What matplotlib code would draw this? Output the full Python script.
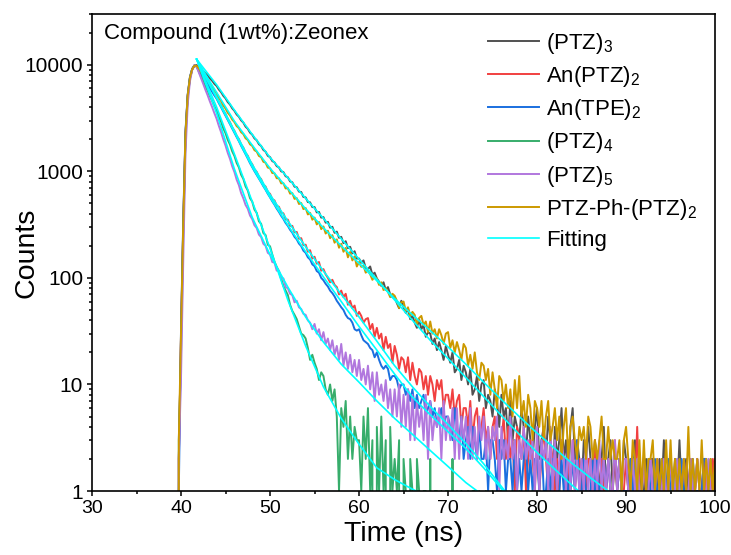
import numpy as np
import matplotlib
matplotlib.use('Agg')
import matplotlib.pyplot as plt
from matplotlib.ticker import MultipleLocator, LogLocator, FuncFormatter, NullFormatter

plt.rcParams['font.family'] = 'Liberation Sans'
plt.rcParams['mathtext.fontset'] = 'custom'
plt.rcParams['mathtext.rm'] = 'Liberation Sans'
plt.rcParams['mathtext.it'] = 'Liberation Sans:italic'
plt.rcParams['mathtext.default'] = 'regular'

# TRPL decay histograms: counts per 0.25 ns channel, first channel at 39.5 ns
t_start = 39.5
t_step = 0.25

ptz3 = [0, 2,
        28, 310, 2250, 5150, 7550, 9050, 9800, 9950,
        9520, 9090, 8730, 8280, 7940, 7420, 7080, 6620,
        6330, 5860, 5540, 5120, 4850, 4470, 4240, 3910,
        3700, 3420, 3260, 3010, 2870, 2630, 2510, 2310,
        2210, 2040, 1960, 1800, 1730, 1590, 1530, 1400,
        1360, 1250, 1215, 1120, 1090, 1000, 985, 900,
        880, 805, 790, 718, 710, 645, 640, 575,
        570, 515, 512, 462, 462, 412, 416, 368,
        372, 330, 336, 296, 302, 265, 272, 238,
        243, 212, 221, 190, 196, 170, 178, 152,
        152, 139, 146, 124, 121, 128, 107, 112,
        99, 92, 84, 91, 77, 82, 70, 66,
        66, 58, 52, 61, 53, 47, 51, 41,
        44, 38, 34, 41, 33, 36, 28, 31,
        30, 24, 27, 21, 25, 21, 17, 23,
        19, 16, 20, 13, 14, 17, 11, 15,
        13, 10, 14, 8, 9, 12, 7, 10,
        11, 6, 8, 7, 5, 9, 7, 4,
        8, 5, 6, 3, 7, 3, 5, 4,
        3, 6, 4, 2, 5, 3, 2, 4,
        6, 2, 3, 4, 2, 5, 3, 1,
        4, 2, 3, 6, 2, 3, 1, 4,
        6, 2, 3, 2, 1, 3, 2, 4,
        2, 1, 3, 2, 1, 2, 4, 1,
        2, 3, 1, 2, 1, 2, 1, 3,
        2, 1, 2, 1, 3, 1, 2, 1,
        1, 2, 1, 2, 2, 1, 1, 2,
        1, 3, 1, 1, 2, 1, 2, 1,
        3, 1, 1, 2, 1, 2, 1, 1,
        2, 1, 1, 2, 1, 1, 2, 1,
        1]

an_ptz2 = [0, 2,
           30, 300, 2200, 5100, 7500, 9050, 9800, 9720,
           9020, 8330, 7780, 7160, 6700, 6160, 5780, 5300,
           4980, 4490, 4150, 3740, 3460, 3110, 2890, 2590,
           2400, 2150, 2010, 1790, 1670, 1490, 1400, 1245,
           1165, 1045, 990, 890, 845, 752, 720, 640,
           615, 548, 534, 474, 465, 410, 404, 355,
           352, 308, 308, 268, 270, 233, 236, 203,
           205, 176, 182, 152, 158, 136, 141, 117,
           121, 108, 100, 91, 96, 86, 82, 70,
           76, 66, 71, 56, 61, 52, 55, 44,
           48, 44, 38, 41, 42, 33, 37, 28,
           34, 27, 30, 21, 28, 22, 24, 16,
           23, 19, 14, 18, 17, 13, 18, 11,
           16, 12, 10, 14, 13, 9, 12, 8,
           12, 10, 7, 11, 9, 11, 6, 8,
           8, 6, 9, 5, 7, 8, 4, 6,
           6, 4, 7, 3, 5, 6, 3, 4,
           6, 3, 4, 2, 4, 5, 2, 3,
           3, 5, 2, 4, 2, 3, 1, 4,
           3, 2, 4, 1, 2, 3, 2, 1,
           3, 1, 2, 4, 2, 1, 3, 2,
           1, 2, 1, 3, 2, 1, 2, 1,
           3, 1, 2, 2, 1, 2, 1, 2,
           2, 1, 3, 1, 1, 2, 1, 1,
           2, 1, 1, 3, 1, 2, 1, 1,
           2, 1, 1, 2, 1, 4, 1, 1,
           2, 1, 1, 2, 1, 1, 2, 1,
           1, 2, 1, 1, 2, 1, 1, 1,
           1, 1, 2, 1, 1, 2, 1, 1,
           2, 1, 1, 2, 1, 1, 1, 2,
           1]

an_tpe2 = [0, 1,
           34, 350, 2400, 5300, 7700, 9200, 9900, 9650,
           8920, 8240, 7600, 7020, 6500, 6000, 5560, 5150,
           4800, 4370, 4000, 3640, 3330, 3040, 2770, 2530,
           2310, 2100, 1920, 1740, 1590, 1450, 1320, 1195,
           1095, 1005, 928, 855, 790, 725, 672, 616,
           570, 524, 487, 447, 416, 383, 358, 328,
           308, 283, 266, 243, 230, 210, 199, 180,
           172, 156, 149, 134, 129, 116, 112, 100,
           95, 88, 83, 76, 72, 67, 61, 57,
           53, 50, 45, 42, 41, 38, 33, 32,
           33, 29, 26, 25, 24, 22, 21, 18,
           20, 17, 15, 14, 15, 14, 11, 12,
           12, 11, 9, 10, 10, 8, 9, 7,
           9, 6, 8, 6, 7, 8, 5, 6,
           7, 5, 6, 4, 5, 6, 4, 5,
           5, 4, 3, 6, 4, 3, 5, 2,
           3, 4, 2, 4, 3, 2, 4, 2,
           2, 3, 1, 3, 3, 2, 1, 3,
           2, 3, 1, 2, 2, 1, 3, 1,
           2, 1, 2, 3, 1, 2, 1, 2,
           2, 1, 3, 1, 1, 2, 1, 2,
           2, 1, 1, 2, 1, 2, 1, 1,
           2, 1, 3, 1, 1, 2, 1, 1,
           1, 2, 1, 2, 1, 1, 2, 1,
           2, 1, 1, 1, 1, 2, 1, 1,
           1, 1, 2, 1, 2, 1, 1, 1,
           1, 1, 2, 1, 1, 2, 1, 1,
           2, 1, 1, 2, 1, 1, 1, 2,
           1, 2, 1, 1, 1, 1, 2, 1,
           1, 1, 1, 2, 2, 1, 1, 1,
           1]

ptz4 = [0, 3,
        20, 260, 2000, 4900, 7400, 9000, 9850, 9600,
        8650, 7740, 7000, 6250, 5660, 5050, 4580, 4080,
        3710, 3250, 2910, 2530, 2280, 1975, 1785, 1540,
        1395, 1200, 1090, 930, 850, 722, 662, 560,
        520, 438, 408, 340, 322, 264, 252, 205,
        198, 166, 142, 127, 115, 98, 84, 76,
        69, 56, 49, 45, 41, 35, 30, 29,
        27, 22, 17, 19, 16, 14, 11, 13,
        12, 9, 8, 10, 7, 9, 5, 1,
        6, 4, 7, 2, 5, 2, 4, 3,
        3, 1, 5, 2, 6, 1, 3, 0,
        4, 1, 5, 1, 3, 0, 4, 1,
        2, 1, 3, 0, 2, 1, 0, 2,
        1, 0, 2, 1, 0, 1, 1, 0,
        2, 0, 1, 1, 0, 1, 0, 1,
        1, 0, 2, 0, 1, 0, 1, 0,
        0, 1, 0, 1, 1, 0, 1, 0,
        0, 1, 0, 0, 1, 0, 0, 1,
        1, 0, 1, 0, 0, 1, 0, 0,
        1, 0, 0, 1, 0, 0, 1, 0,
        1, 0, 0, 0, 0, 1, 0, 1,
        0, 0, 1, 0, 0, 1, 0, 0,
        1, 0, 0, 1, 0, 0, 1, 0,
        0, 1, 0, 0, 1, 0, 0, 0,
        0, 0, 1, 0, 0, 1, 0, 0,
        0, 0, 1, 0, 1, 0, 0, 0,
        0, 1, 0, 0, 0, 0, 0, 1,
        0, 1, 0, 0, 1, 0, 0, 0,
        0, 0, 1, 0, 0, 1, 0, 0,
        0, 0, 1, 0, 1, 0, 0, 0,
        0]

ptz5 = [0, 2,
        12, 150, 1500, 4300, 7000, 8950, 9900, 9600,
        8480, 7460, 6600, 5800, 5140, 4510, 4000, 3510,
        3110, 2670, 2330, 1995, 1745, 1490, 1310, 1115,
        985, 835, 742, 625, 558, 484, 446, 385,
        356, 312, 294, 255, 242, 209, 200, 172,
        166, 141, 139, 117, 117, 98, 99, 82,
        80, 71, 69, 59, 61, 53, 51, 46,
        45, 40, 38, 33, 37, 30, 33, 26,
        31, 24, 27, 21, 26, 19, 23, 17,
        24, 15, 20, 14, 19, 13, 17, 12,
        17, 11, 14, 10, 15, 9, 13, 7,
        13, 8, 10, 7, 11, 6, 9, 5,
        9, 5, 10, 4, 8, 4, 9, 3,
        8, 3, 7, 4, 6, 3, 8, 2,
        7, 3, 5, 4, 6, 2, 7, 3,
        5, 3, 6, 2, 6, 2, 5, 3,
        5, 2, 6, 2, 4, 2, 5, 3,
        5, 2, 4, 2, 4, 3, 5, 1,
        4, 2, 3, 2, 5, 2, 3, 1,
        3, 2, 4, 2, 3, 2, 3, 1,
        4, 1, 3, 2, 3, 1, 4, 1,
        3, 1, 2, 3, 2, 1, 3, 1,
        3, 1, 2, 1, 2, 1, 3, 1,
        2, 1, 2, 1, 3, 1, 2, 1,
        2, 1, 1, 3, 1, 2, 1, 2,
        2, 1, 1, 2, 1, 2, 1, 1,
        2, 1, 1, 2, 1, 1, 2, 1,
        1, 2, 1, 1, 2, 1, 1, 2,
        1, 1, 2, 1, 1, 2, 1, 1,
        2, 1, 1, 1, 1, 2, 1, 1,
        1]

ptz_ph_ptz2 = [0, 3,
               32, 330, 2300, 5200, 7600, 9100, 9820, 9780,
               9250, 8610, 8130, 7560, 7140, 6590, 6200, 5720,
               5390, 4900, 4570, 4150, 3880, 3550, 3350, 3060,
               2900, 2660, 2550, 2330, 2240, 2045, 1970, 1795,
               1735, 1580, 1535, 1395, 1360, 1230, 1205, 1085,
               1070, 965, 960, 862, 862, 772, 775, 691,
               696, 618, 625, 552, 561, 494, 505, 442,
               453, 394, 408, 352, 368, 318, 335, 287,
               304, 261, 277, 236, 252, 214, 230, 192,
               209, 176, 191, 156, 175, 146, 159, 128,
               141, 127, 130, 112, 119, 108, 96, 103,
               98, 86, 91, 77, 80, 74, 66, 71,
               68, 61, 52, 59, 60, 49, 53, 44,
               48, 45, 37, 42, 44, 36, 39, 31,
               39, 30, 33, 27, 33, 29, 24, 30,
               31, 22, 26, 20, 25, 21, 17, 24,
               22, 15, 19, 14, 20, 13, 11, 16,
               15, 11, 14, 8, 13, 9, 6, 12,
               11, 7, 10, 6, 9, 5, 11, 6,
               12, 5, 7, 4, 8, 6, 3, 7,
               6, 4, 7, 3, 5, 7, 3, 4,
               6, 3, 5, 2, 4, 6, 2, 4,
               5, 3, 2, 4, 3, 4, 2, 5,
               4, 2, 3, 2, 3, 5, 2, 2,
               4, 2, 3, 2, 2, 3, 1, 3,
               4, 2, 1, 3, 2, 1, 3, 1,
               3, 1, 2, 2, 3, 1, 2, 1,
               2, 1, 3, 1, 3, 1, 2, 1,
               2, 1, 2, 1, 4, 1, 2, 1,
               2, 1, 3, 1, 2, 1, 2, 1,
               2]

# fitted decay curves (same colour for all)
fit_time = [41.75, 43, 44, 46, 48, 50, 52, 54, 56, 58, 60, 62, 64,
            66, 68, 70, 72, 74, 76, 78, 80, 82, 84, 86, 88, 90]
fit_ptz3 = [11300, 8300, 6500, 3750, 2220, 1350, 870, 558, 362, 233, 150,
            97, 62, 40, 26, 17.5, 11.6, 7.7, 5.1, 3.4, 2.3, 1.6, 1.12,
            0.8, 0.57]
fit_an_ptz2 = [11300, 7100, 5000, 2400, 1160, 605, 342, 196, 116, 70, 43,
               25.5, 15, 9.5, 6.2, 4.2, 2.8, 1.8, 1.1, 0.68]
fit_an_tpe2 = [11300, 7000, 4850, 2320, 1100, 570, 312, 176, 102, 60, 35,
               21, 12.5, 7.6, 5.2, 3.6, 2.5, 1.65, 1.05, 0.66]
fit_ptz4 = [11300, 6300, 4000, 1450, 520, 190, 62, 23, 9.5, 4.8, 2.75,
            1.65, 1.28, 1.04, 0.86]
fit_ptz5 = [11300, 5900, 3500, 1050, 370, 165, 82, 43, 25, 15.5, 10.5,
            7.0, 4.8, 3.4, 2.4, 1.7, 1.2, 0.9, 0.65]
fit_ptz_ph_ptz2 = [11300, 7500, 5500, 2950, 1760, 1070, 690, 445, 295, 200,
                   137, 94, 64, 45, 32, 22.5, 15.5, 10.5, 7.2, 5.0, 3.5,
                   2.5, 1.8, 1.33, 1.0, 0.76]

series = [
    (ptz3, fit_ptz3, '#515151', '(PTZ)$_3$'),
    (an_ptz2, fit_an_ptz2, '#F14040', 'An(PTZ)$_2$'),
    (an_tpe2, fit_an_tpe2, '#1A6FDF', 'An(TPE)$_2$'),
    (ptz4, fit_ptz4, '#37AD6B', '(PTZ)$_4$'),
    (ptz5, fit_ptz5, '#B177DE', '(PTZ)$_5$'),
    (ptz_ph_ptz2, fit_ptz_ph_ptz2, '#CC9900', 'PTZ-Ph-(PTZ)$_2$'),
]
fit_color = '#00FFFF'

fig = plt.figure(figsize=(7.31, 5.55), dpi=100)
ax = fig.add_axes([0.1259, 0.1153, 0.8523, 0.8595])

for counts, fit, color, label in series:
    t = t_start + t_step * np.arange(len(counts))
    ax.plot(t, counts, color=color, lw=1.4, label=label)

for i, (counts, fit, color, label) in enumerate(series):
    ax.plot(fit_time[:len(fit)], fit, color=fit_color, lw=1.2,
            label='Fitting' if i == 0 else None)

ax.set_yscale('log')
ax.set_xlim(30, 100)
ax.set_ylim(1, 30000)

ax.xaxis.set_major_locator(MultipleLocator(10))
ax.xaxis.set_minor_locator(MultipleLocator(5))
ax.yaxis.set_major_locator(LogLocator(base=10, numticks=10))
ax.yaxis.set_minor_locator(LogLocator(base=10, subs=np.arange(2, 10), numticks=30))
ax.yaxis.set_major_formatter(FuncFormatter(lambda v, p: '%g' % v))
ax.yaxis.set_minor_formatter(NullFormatter())

ax.tick_params(which='major', direction='out', length=3.5, width=1.1,
               top=False, right=False, pad=3)
ax.tick_params(axis='x', labelsize=14)
ax.tick_params(axis='y', labelsize=15)
ax.tick_params(which='minor', direction='out', length=2, width=1.1,
               top=False, right=False)
for sp in ax.spines.values():
    sp.set_linewidth(1.2)

ax.set_xlabel('Time (ns)', fontsize=20.5, labelpad=3)
ax.set_ylabel('Counts', fontsize=20.5)
ax.yaxis.set_label_coords(-0.085, 0.5)

ax.text(0.019, 0.9476, 'Compound (1wt%):Zeonex', transform=ax.transAxes,
        fontsize=16, va='baseline')

ax.legend(loc='upper left', bbox_to_anchor=(0.636, 0.965), frameon=False,
          fontsize=16, handlelength=2.3, handletextpad=0.3,
          labelspacing=0.37, borderpad=0, borderaxespad=0)

fig.savefig('out.png', dpi=100)
